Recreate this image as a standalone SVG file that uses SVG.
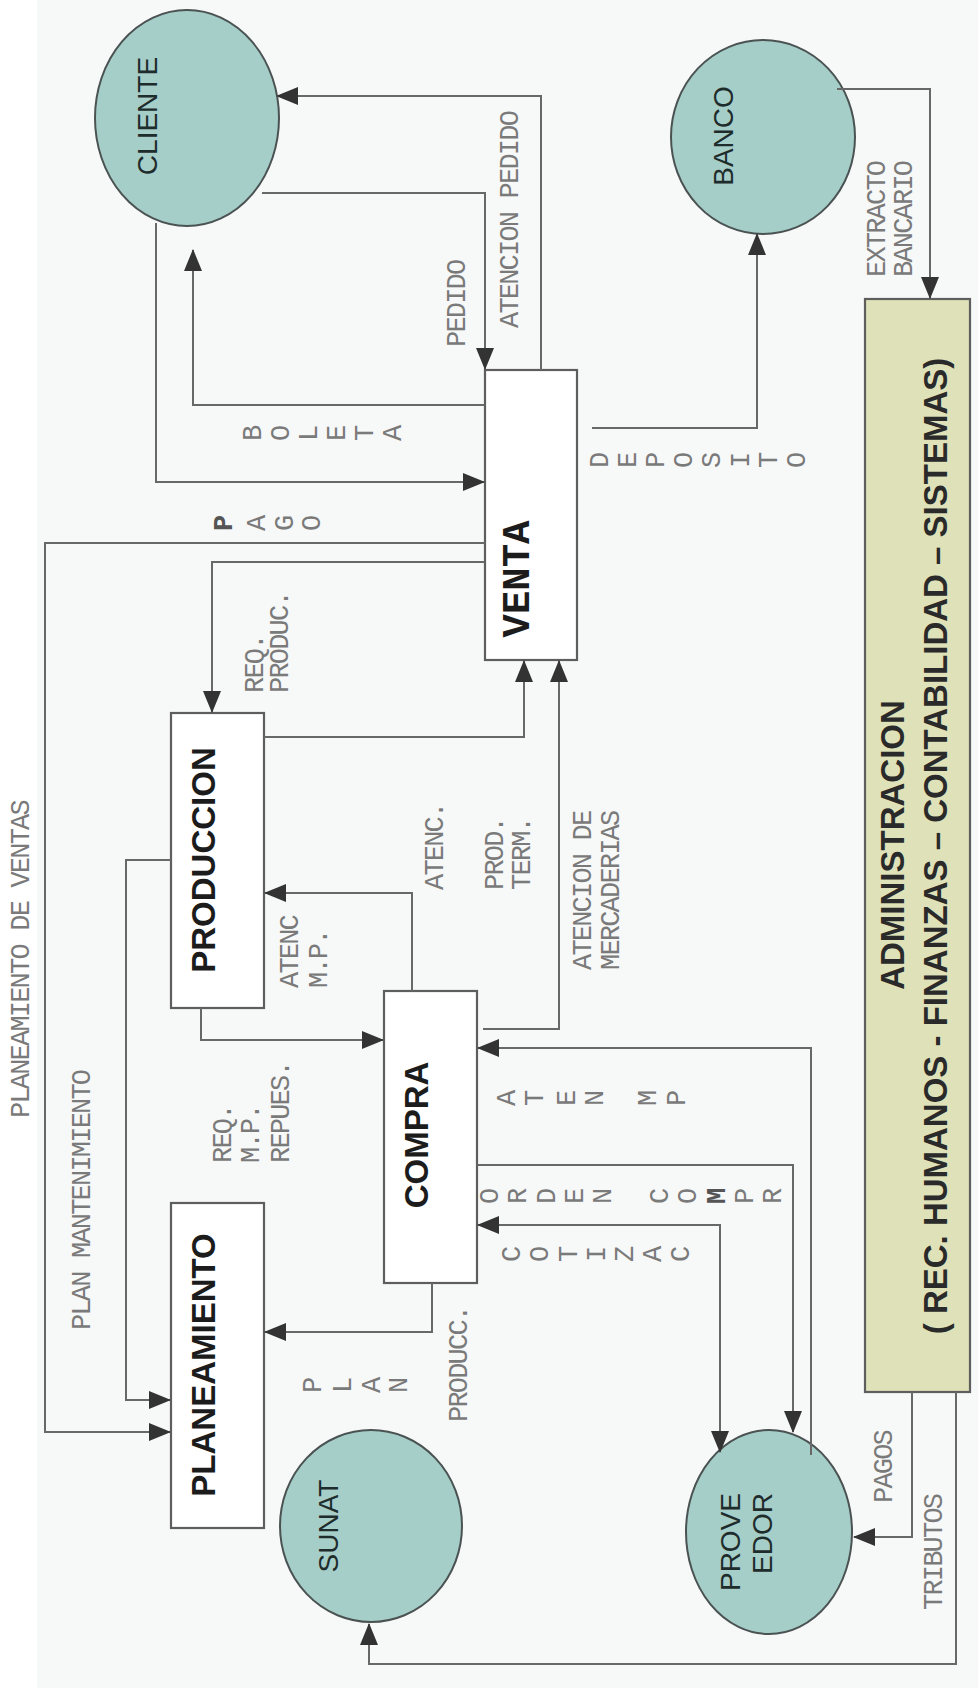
<svg xmlns="http://www.w3.org/2000/svg" width="978" height="1693" viewBox="0 0 978 1693">
  <defs>
    <marker id="arrow" markerUnits="userSpaceOnUse" markerWidth="22" markerHeight="18" viewBox="0 0 22 18" refX="21" refY="9" orient="auto-start-reverse">
      <path d="M0,0 L22,9 L0,18 z" fill="#333"/>
    </marker>
    <style>
      .entity { fill: #a6cec9; stroke: #4a5252; stroke-width: 2; }
      .process { fill: #ffffff; stroke: #5e5e5e; stroke-width: 2.2; }
      .admin { fill: #dfe2b8; stroke: #5e5e5e; stroke-width: 2.2; }
      .flow { fill: none; stroke: #686868; stroke-width: 2; marker-end: url(#arrow); }
      .ent-label { font-family: "Liberation Sans", Arial, sans-serif; font-size: 28px; fill: #1e2c2c; text-anchor: middle; }
      .proc-label { font-family: "Liberation Sans", Arial, sans-serif; font-size: 33px; font-weight: bold; fill: #1c1c1c; text-anchor: middle; }
      .venta-label { font-family: "Liberation Mono", "Courier New", monospace; font-size: 39px; font-weight: bold; fill: #1c1c1c; text-anchor: middle; }
      .admin-label { font-family: "Liberation Sans", Arial, sans-serif; font-size: 33px; font-weight: bold; fill: #2a2a2a; text-anchor: middle; }
      .lbl { font-family: "Liberation Mono", "Courier New", monospace; font-size: 27px; letter-spacing: -1.8px; fill: #7a7a7a; }
      .lt { font-family: "Liberation Mono", "Courier New", monospace; font-size: 27px; fill: #7a7a7a; text-anchor: middle; }
      .lt.b { font-weight: bold; fill: #555; }
    </style>
  </defs>

  <rect x="0" y="0" width="978" height="1693" fill="#ffffff"/>
  <rect x="37" y="0" width="941" height="1688" fill="#f7f8f8"/>

  <!-- external entities -->
  <g id="cliente">
    <ellipse class="entity" cx="187" cy="118" rx="92" ry="108"/>
    <text class="ent-label" transform="translate(157,116) rotate(-90)">CLIENTE</text>
  </g>
  <g id="banco">
    <ellipse class="entity" cx="763" cy="137" rx="92" ry="97"/>
    <text class="ent-label" transform="translate(733,136) rotate(-90)">BANCO</text>
  </g>
  <g id="sunat">
    <ellipse class="entity" cx="371" cy="1526" rx="91" ry="96"/>
    <text class="ent-label" transform="translate(338,1526) rotate(-90)">SUNAT</text>
  </g>
  <g id="proveedor">
    <ellipse class="entity" cx="769" cy="1532" rx="83" ry="102"/>
    <text class="ent-label" style="text-anchor:end" transform="translate(740,1493) rotate(-90)">PROVE</text>
    <text class="ent-label" style="text-anchor:end" transform="translate(772,1493) rotate(-90)">EDOR</text>
  </g>

  <!-- processes -->
  <g id="venta">
    <rect class="process" x="485" y="370" width="92" height="290"/>
    <text class="venta-label" transform="translate(529,579) rotate(-90)">VENTA</text>
  </g>
  <g id="produccion">
    <rect class="process" x="171" y="713" width="93" height="295"/>
    <text class="proc-label" transform="translate(215,860) rotate(-90)">PRODUCCION</text>
  </g>
  <g id="compra">
    <rect class="process" x="384" y="991" width="93" height="292"/>
    <text class="proc-label" transform="translate(428,1135) rotate(-90)">COMPRA</text>
  </g>
  <g id="planeamiento">
    <rect class="process" x="171" y="1203" width="93" height="325"/>
    <text class="proc-label" transform="translate(215,1365) rotate(-90)">PLANEAMIENTO</text>
  </g>
  <g id="administracion">
    <rect class="admin" x="865" y="299" width="105" height="1093"/>
    <text class="admin-label" transform="translate(904,845) rotate(-90)">ADMINISTRACION</text>
    <text class="admin-label" transform="translate(947,846) rotate(-90)">( REC. HUMANOS - FINANZAS – CONTABILIDAD – SISTEMAS)</text>
  </g>

  <!-- data flows -->
  <g id="connectors">
    <path class="flow" d="M541,370 V96 H277"/>
    <path class="flow" d="M262,193 H485 V369"/>
    <path class="flow" d="M485,405 H193 V250"/>
    <path class="flow" d="M156,223 V482 H484"/>
    <path class="flow" d="M485,543 H45 V1432 H170"/>
    <path class="flow" d="M485,562 H212 V712"/>
    <path class="flow" d="M592,428 H757 V234"/>
    <path class="flow" d="M837,89 H930 V298"/>
    <path class="flow" d="M264,737 H524 V661"/>
    <path class="flow" d="M483,1029 H559 V661"/>
    <path class="flow" d="M171,860 H126 V1400 H170"/>
    <path class="flow" d="M412,991 V893 H265"/>
    <path class="flow" d="M201,1008 V1040 H383"/>
    <path class="flow" d="M811,1455 V1048 H478"/>
    <path class="flow" d="M477,1165 H793 V1432"/>
    <path class="flow" style="marker-start:url(#arrow)" d="M720,1452 V1225 H478"/>
    <path class="flow" d="M432,1283 V1332 H265"/>
    <path class="flow" d="M912,1392 V1537 H854"/>
    <path class="flow" d="M956,1392 V1664 H369 V1624"/>
  </g>

  <!-- flow labels -->
  <g id="flow-labels">
    <text class="lbl" transform="translate(518,328) rotate(-90)">ATENCION PEDIDO</text>
    <text class="lbl" transform="translate(465,347) rotate(-90)">PEDIDO</text>
    <text class="lbl" transform="translate(885,277) rotate(-90)">EXTRACTO</text>
    <text class="lbl" transform="translate(912,277) rotate(-90)">BANCARIO</text>
    <text class="lbl" transform="translate(263,693) rotate(-90)">REQ.</text>
    <text class="lbl" transform="translate(288,693) rotate(-90)">PRODUC.</text>
    <text class="lbl" transform="translate(443,890) rotate(-90)">ATENC.</text>
    <text class="lbl" transform="translate(503,890) rotate(-90)">PROD.</text>
    <text class="lbl" transform="translate(530,890) rotate(-90)">TERM.</text>
    <text class="lbl" transform="translate(591,970) rotate(-90)">ATENCION DE</text>
    <text class="lbl" transform="translate(619,970) rotate(-90)">MERCADERIAS</text>
    <text class="lbl" transform="translate(298,988) rotate(-90)">ATENC</text>
    <text class="lbl" transform="translate(327,988) rotate(-90)">M.P.</text>
    <text class="lbl" transform="translate(29,1118) rotate(-90)">PLANEAMIENTO DE VENTAS</text>
    <text class="lbl" transform="translate(90,1330) rotate(-90)">PLAN MANTENIMIENTO</text>
    <text class="lbl" transform="translate(231,1163) rotate(-90)">REQ.</text>
    <text class="lbl" transform="translate(259,1163) rotate(-90)">M.P.</text>
    <text class="lbl" transform="translate(289,1163) rotate(-90)">REPUES.</text>
    <text class="lbl" transform="translate(467,1422) rotate(-90)">PRODUCC.</text>
    <text class="lbl" transform="translate(892,1503) rotate(-90)">PAGOS</text>
    <text class="lbl" transform="translate(942,1610) rotate(-90)">TRIBUTOS</text>

    <!-- spelled-out labels, one letter each -->
    <g id="boleta">
      <text class="lt" transform="translate(261,433) rotate(-90)">B</text>
      <text class="lt" transform="translate(289,433) rotate(-90)">O</text>
      <text class="lt" transform="translate(317,433) rotate(-90)">L</text>
      <text class="lt" transform="translate(345,433) rotate(-90)">E</text>
      <text class="lt" transform="translate(373,433) rotate(-90)">T</text>
      <text class="lt" transform="translate(401,433) rotate(-90)">A</text>
    </g>
    <g id="pago">
      <text class="lt b" transform="translate(232,523) rotate(-90)">P</text>
      <text class="lt" transform="translate(265,523) rotate(-90)">A</text>
      <text class="lt" transform="translate(293,523) rotate(-90)">G</text>
      <text class="lt" transform="translate(320,523) rotate(-90)">O</text>
    </g>
    <g id="deposito">
      <text class="lt" transform="translate(608,460) rotate(-90)">D</text>
      <text class="lt" transform="translate(636,460) rotate(-90)">E</text>
      <text class="lt" transform="translate(664,460) rotate(-90)">P</text>
      <text class="lt" transform="translate(692,460) rotate(-90)">O</text>
      <text class="lt" transform="translate(720,460) rotate(-90)">S</text>
      <text class="lt" transform="translate(749,460) rotate(-90)">I</text>
      <text class="lt" transform="translate(777,460) rotate(-90)">T</text>
      <text class="lt" transform="translate(805,460) rotate(-90)">O</text>
    </g>
    <g id="aten-mp">
      <text class="lt" transform="translate(515,1098) rotate(-90)">A</text>
      <text class="lt" transform="translate(543,1098) rotate(-90)">T</text>
      <text class="lt" transform="translate(575,1098) rotate(-90)">E</text>
      <text class="lt" transform="translate(603,1098) rotate(-90)">N</text>
      <text class="lt" transform="translate(656,1098) rotate(-90)">M</text>
      <text class="lt" transform="translate(685,1098) rotate(-90)">P</text>
    </g>
    <g id="orden-compr">
      <text class="lt" transform="translate(498,1196) rotate(-90)">O</text>
      <text class="lt" transform="translate(526,1196) rotate(-90)">R</text>
      <text class="lt" transform="translate(555,1196) rotate(-90)">D</text>
      <text class="lt" transform="translate(583,1196) rotate(-90)">E</text>
      <text class="lt" transform="translate(611,1196) rotate(-90)">N</text>
      <text class="lt" transform="translate(668,1196) rotate(-90)">C</text>
      <text class="lt" transform="translate(696,1196) rotate(-90)">O</text>
      <text class="lt b" transform="translate(725,1196) rotate(-90)">M</text>
      <text class="lt" transform="translate(753,1196) rotate(-90)">P</text>
      <text class="lt" transform="translate(781,1196) rotate(-90)">R</text>
    </g>
    <g id="cotizac">
      <text class="lt" transform="translate(520,1254) rotate(-90)">C</text>
      <text class="lt" transform="translate(548,1254) rotate(-90)">O</text>
      <text class="lt" transform="translate(577,1254) rotate(-90)">T</text>
      <text class="lt" transform="translate(605,1254) rotate(-90)">I</text>
      <text class="lt" transform="translate(633,1254) rotate(-90)">Z</text>
      <text class="lt" transform="translate(661,1254) rotate(-90)">A</text>
      <text class="lt" transform="translate(689,1254) rotate(-90)">C</text>
    </g>
    <g id="plan">
      <text class="lt" transform="translate(321,1385) rotate(-90)">P</text>
      <text class="lt" transform="translate(351,1385) rotate(-90)">L</text>
      <text class="lt" transform="translate(380,1385) rotate(-90)">A</text>
      <text class="lt" transform="translate(407,1385) rotate(-90)">N</text>
    </g>
  </g>
</svg>
